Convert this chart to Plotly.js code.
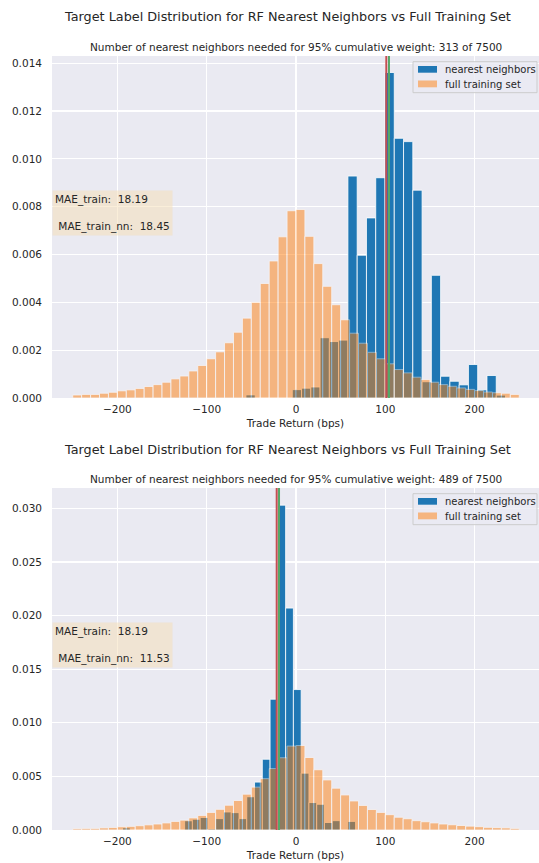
<!DOCTYPE html>
<html>
<head>
<meta charset="utf-8">
<script src="https://cdn.plot.ly/plotly-3.0.1.min.js"></script>
<style>html,body{margin:0;padding:0;background:#fff;}#chart{width:539px;height:863px;}</style>
</head>
<body>
<div id="chart"></div>
<script>
// ---- data ----
const chartTitle = "Target Label Distribution for RF Nearest Neighbors vs Full Training Set";
const subtitleTop = "Number of nearest neighbors needed for 95% cumulative weight: 313 of 7500";
const subtitleBottom = "Number of nearest neighbors needed for 95% cumulative weight: 489 of 7500";
const xLabel = "Trade Return (bps)";
const legendNames = ["nearest neighbors", "full training set"];

// full training set histogram (density), bins of 10 bps from -250 to 250
const fullStart = -250, fullWidth = 10;
const fullDensity = [0.000126, 0.00015, 0.00015, 0.0002, 0.00024, 0.0003, 0.00034, 0.0004, 0.00048, 0.00056,
  0.00066, 0.0008, 0.00092, 0.00113, 0.00136, 0.00164, 0.00193, 0.00231, 0.00275, 0.00334,
  0.004, 0.00479, 0.00573, 0.00674, 0.00783, 0.00788, 0.00676, 0.00562, 0.00467, 0.0039,
  0.00327, 0.00271, 0.00229, 0.00191, 0.00164, 0.00143, 0.00119, 0.00105, 0.00087, 0.00077,
  0.00066, 0.00056, 0.00049, 0.00042, 0.00036, 0.00031, 0.00025, 0.00022, 0.0002, 0.00015];

// nearest neighbors, top panel
const nnTopStart = -56.04, nnTopWidth = 10.38;
const nnTopDensity = [0.00013, 0, 0, 0, 0, 0.00035, 0.00041, 0.00046, 0.00252, 0.00236,
  0.00242, 0.00928, 0.00597, 0.00753, 0.00921, 0.01361, 0.01086, 0.01072, 0.00869, 0.00068,
  0.00513, 0.00091, 0.0007, 0.00055, 0.0014, 0.00034, 0.00094, 0.00012];

// nearest neighbors, bottom panel
const nnBotStart = -194.3, nnBotWidth = 8.7;
const nnBotDensity = [0.0002, 0, 0, 0, 0, 0, 0, 0, 0.00086, 0.001,
  0.00117, 0.0001, 0.00106, 0.00168, 0.00162, 0.00106, 0.0031, 0.00447, 0.0066, 0.0122,
  0.0303, 0.0207, 0.0131, 0.0053, 0.00256, 0.0024, 0.0007, 0.00087, 0, 0.0008];

// vertical reference lines (bps)
const redLineX = [101.1, -21.6];
const greenLineX = [104.1, -19.0];

// text boxes
const maeTrain = ["18.19", "18.19"];
const maeTrainNN = ["18.45", "11.53"];

// ---- build ----
function centers(start, width, n) { const c = []; for (let i = 0; i < n; i++) c.push(start + width * (i + 0.5)); return c; }

const BLUE = "#1f77b4", ORANGE = "#ff7f0e", RED = "#c44e52", GREEN = "#55a868";
const TXT = "#262626", FONT = "DejaVu Sans, sans-serif";

function bars(xs, ys, w, color, name, xa, ya, op) {
  return { type: "bar", x: xs, y: ys, width: w, name: name, xaxis: xa, yaxis: ya, showlegend: false,
    marker: { color: color, line: { color: "white", width: 0.8 } }, opacity: op, hoverinfo: "skip" };
}

const traces = [
  bars(centers(nnTopStart, nnTopWidth, nnTopDensity.length), nnTopDensity, nnTopWidth, BLUE, legendNames[0], "x", "y", 1),
  bars(centers(fullStart, fullWidth, fullDensity.length), fullDensity, fullWidth, ORANGE, legendNames[1], "x", "y", 0.5),
  bars(centers(nnBotStart, nnBotWidth, nnBotDensity.length), nnBotDensity, nnBotWidth, BLUE, legendNames[0], "x2", "y2", 1),
  bars(centers(fullStart, fullWidth, fullDensity.length), fullDensity, fullWidth, ORANGE, legendNames[1], "x2", "y2", 0.5)
];

const H = 863, T = 56, B = 33, plotH = H - T - B, L = 52, plotW = 539 - L, PH = 342;
function py(pix) { return (H - B - pix) / plotH; }
function dx(pix) { return (pix - L) / plotW; }

const xaxisBase = { range: [-273.2, 272.1], dtick: 100, tick0: 0, gridcolor: "white", gridwidth: 1.1,
  zeroline: false, showline: false, ticks: "", ticklabelstandoff: 3, tickfont: { family: FONT, size: 10.5, color: TXT },
  title: { text: xLabel, font: { family: FONT, size: 10.5, color: TXT }, standoff: 6 } };
const yaxisBase = { tickformat: ".3f", gridcolor: "white", gridwidth: 1.1, zeroline: false, showline: false,
  ticks: "", ticklabelstandoff: 9, tickfont: { family: FONT, size: 10.5, color: TXT } };

function vline(x, color, xa, ya) {
  return { type: "line", xref: xa, yref: ya + " domain", x0: x, x1: x, y0: 0, y1: 1, line: { color: color, width: 2 } };
}

// custom legend drawn in axis-domain coordinates
function legendParts(xa, ya, plotTop) {
  const yd = p => (plotTop + PH - p) / PH;
  const shapes = [
    { type: "rect", xref: xa + " domain", yref: ya + " domain", x0: dx(413), x1: dx(537), y0: yd(plotTop + 36.7), y1: yd(plotTop + 5.7),
      fillcolor: "rgba(234,234,242,0.8)", line: { color: "#cccccc", width: 1 } },
    { type: "rect", xref: xa + " domain", yref: ya + " domain", x0: dx(418), x1: dx(437), y0: yd(plotTop + 16.7), y1: yd(plotTop + 10),
      fillcolor: BLUE, line: { width: 0 } },
    { type: "rect", xref: xa + " domain", yref: ya + " domain", x0: dx(418), x1: dx(437), y0: yd(plotTop + 31.3), y1: yd(plotTop + 24.5),
      fillcolor: "rgba(255,127,14,0.5)", line: { width: 0 } }
  ];
  const anns = [
    { text: legendNames[0], xref: xa + " domain", yref: ya + " domain", x: dx(443), y: yd(plotTop + 13.5), xanchor: "left", yanchor: "middle",
      showarrow: false, font: { family: FONT, size: 10, color: TXT } },
    { text: legendNames[1], xref: xa + " domain", yref: ya + " domain", x: dx(443), y: yd(plotTop + 28), xanchor: "left", yanchor: "middle",
      showarrow: false, font: { family: FONT, size: 10, color: TXT } }
  ];
  return { shapes, anns };
}
const legTop = legendParts("x", "y", 56);
const legBot = legendParts("x2", "y2", 488);

const annFont = { family: FONT, color: TXT };
const layout = {
  width: 539, height: 863, paper_bgcolor: "white", plot_bgcolor: "#eaeaf2",
  margin: { l: L, r: 0, t: T, b: B }, barmode: "overlay", bargap: 0,
  showlegend: false,
  xaxis: Object.assign({}, xaxisBase, { domain: [0, 1], anchor: "y" }),
  yaxis: Object.assign({}, yaxisBase, { domain: [py(398), 1], range: [0, 0.0143], dtick: 0.002, anchor: "x" }),
  xaxis2: Object.assign({}, xaxisBase, { domain: [0, 1], anchor: "y2" }),
  yaxis2: Object.assign({}, yaxisBase, { domain: [0, py(488)], range: [0, 0.0319], dtick: 0.005, anchor: "x2" }),
  shapes: [
    vline(redLineX[0], RED, "x", "y"), vline(greenLineX[0], GREEN, "x", "y"),
    vline(redLineX[1], RED, "x2", "y2"), vline(greenLineX[1], GREEN, "x2", "y2")
  ].concat(legTop.shapes, legBot.shapes),
  annotations: [
    { text: chartTitle, xref: "paper", yref: "paper", x: 0.483, y: py(17), xanchor: "center", yanchor: "middle", showarrow: false, font: Object.assign({ size: 12.8 }, annFont) },
    { text: subtitleTop, xref: "paper", yref: "paper", x: 0.5, y: py(47), xanchor: "center", yanchor: "middle", showarrow: false, font: Object.assign({ size: 10.5 }, annFont) },
    { text: chartTitle, xref: "paper", yref: "paper", x: 0.483, y: py(449), xanchor: "center", yanchor: "middle", showarrow: false, font: Object.assign({ size: 12.8 }, annFont) },
    { text: subtitleBottom, xref: "paper", yref: "paper", x: 0.5, y: py(479), xanchor: "center", yanchor: "middle", showarrow: false, font: Object.assign({ size: 10.5 }, annFont) },
    { text: "MAE_train:\u00a0\u00a0" + maeTrain[0] + "<br><br>\u00a0MAE_train_nn:\u00a0\u00a0" + maeTrainNN[0],
      xref: "x domain", yref: "y domain", x: 0, y: (398 - 189.5) / PH, xanchor: "left", yanchor: "top", align: "left",
      showarrow: false, bgcolor: "rgba(245,222,179,0.5)", borderpad: 2, font: Object.assign({ size: 10.5 }, annFont) },
    { text: "MAE_train:\u00a0\u00a0" + maeTrain[1] + "<br><br>\u00a0MAE_train_nn:\u00a0\u00a0" + maeTrainNN[1],
      xref: "x2 domain", yref: "y2 domain", x: 0, y: (830 - 621.5) / PH, xanchor: "left", yanchor: "top", align: "left",
      showarrow: false, bgcolor: "rgba(245,222,179,0.5)", borderpad: 2, font: Object.assign({ size: 10.5 }, annFont) }
  ].concat(legTop.anns, legBot.anns)
};

Plotly.newPlot("chart", traces, layout, { displayModeBar: false, staticPlot: true });
</script>
</body>
</html>
